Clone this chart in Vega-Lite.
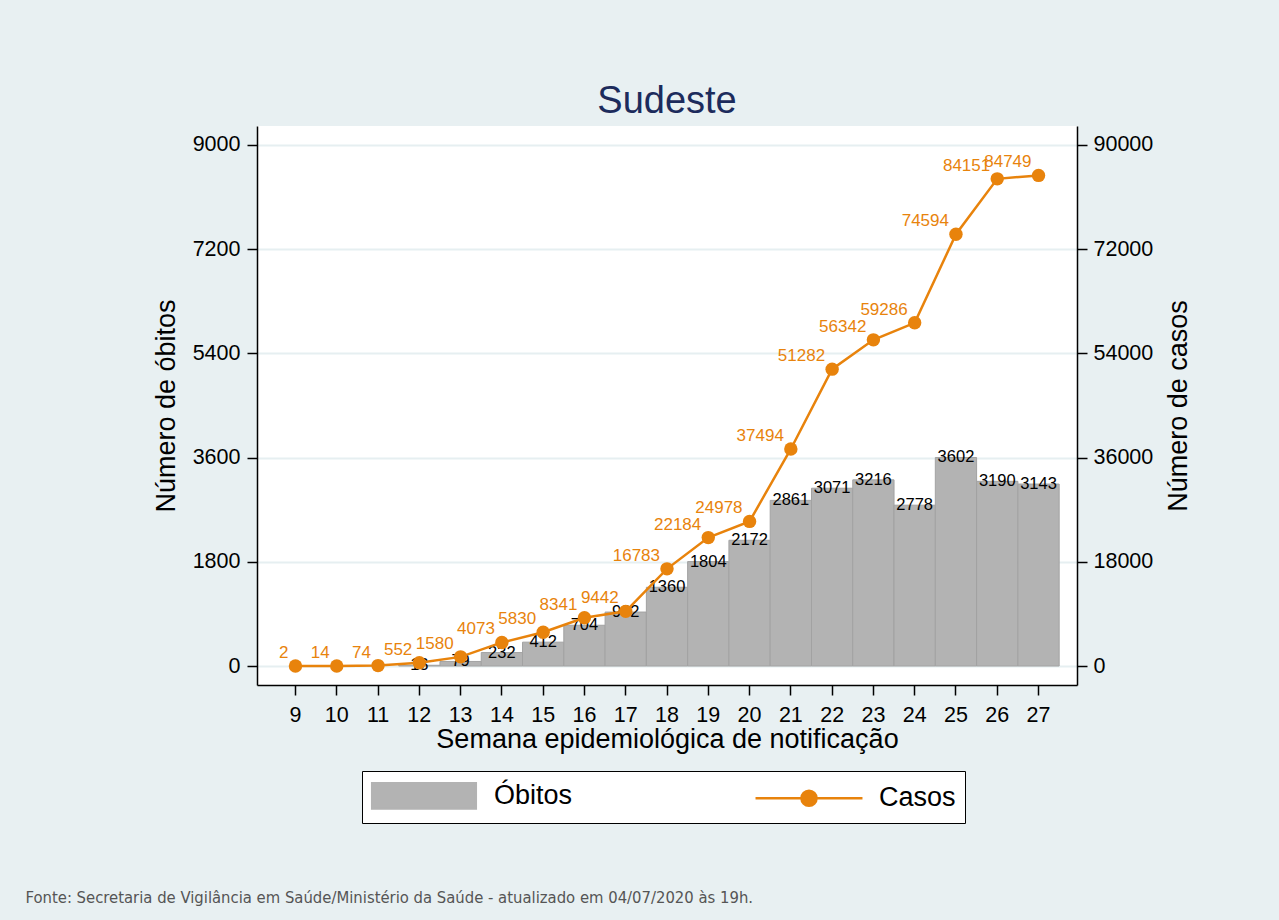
{
  "$schema": "https://vega.github.io/schema/vega-lite/v6.json",
  "width": 820,
  "height": 559,
  "autosize": {"type": "none"},
  "padding": {"left": 257, "top": 126, "right": 202, "bottom": 235},
  "background": "#e8f0f2",
  "title": {"text": "Sudeste", "font": "Liberation Sans", "fontSize": 38, "fontWeight": "normal", "color": "#1c2b5c", "anchor": "middle", "baseline": "alphabetic", "offset": -25},
  "config": {
    "view": {"fill": "white", "stroke": null},
    "font": "Liberation Sans",
    "axis": {"labelFont": "Liberation Sans", "titleFont": "Liberation Sans", "labelColor": "black", "titleColor": "black", "titleFontWeight": "normal", "domainColor": "black", "tickColor": "black", "domainWidth": 1.5, "tickWidth": 1.5}
  },
  "datasets": {
    "obitos": [
      {"semana": 12, "obitos": 13},
      {"semana": 13, "obitos": 79},
      {"semana": 14, "obitos": 232},
      {"semana": 15, "obitos": 412},
      {"semana": 16, "obitos": 704},
      {"semana": 17, "obitos": 932},
      {"semana": 18, "obitos": 1360},
      {"semana": 19, "obitos": 1804},
      {"semana": 20, "obitos": 2172},
      {"semana": 21, "obitos": 2861},
      {"semana": 22, "obitos": 3071},
      {"semana": 23, "obitos": 3216},
      {"semana": 24, "obitos": 2778},
      {"semana": 25, "obitos": 3602},
      {"semana": 26, "obitos": 3190},
      {"semana": 27, "obitos": 3143}
    ],
    "casos": [
      {"semana": 9, "casos": 2},
      {"semana": 10, "casos": 14},
      {"semana": 11, "casos": 74},
      {"semana": 12, "casos": 552},
      {"semana": 13, "casos": 1580},
      {"semana": 14, "casos": 4073},
      {"semana": 15, "casos": 5830},
      {"semana": 16, "casos": 8341},
      {"semana": 17, "casos": 9442},
      {"semana": 18, "casos": 16783},
      {"semana": 19, "casos": 22184},
      {"semana": 20, "casos": 24978},
      {"semana": 21, "casos": 37494},
      {"semana": 22, "casos": 51282},
      {"semana": 23, "casos": 56342},
      {"semana": 24, "casos": 59286},
      {"semana": 25, "casos": 74594},
      {"semana": 26, "casos": 84151},
      {"semana": 27, "casos": 84749}
    ]
  },
  "layer": [
    {
      "data": {"name": "obitos"},
      "encoding": {
        "x": {
          "field": "semana", "type": "ordinal",
          "scale": {"domain": [9,10,11,12,13,14,15,16,17,18,19,20,21,22,23,24,25,26,27], "paddingInner": 0, "paddingOuter": 0.432},
          "axis": {"orient": "bottom", "title": "Semana epidemiológica de notificação", "titleFontSize": 27, "labelFontSize": 21.5, "labelAngle": 0, "tickSize": 10, "labelPadding": 9, "titlePadding": 1, "grid": false}
        },
        "y": {
          "field": "obitos", "type": "quantitative",
          "scale": {"domain": [-328, 9328], "nice": false, "zero": false},
          "axis": {"orient": "left", "values": [0, 1800, 3600, 5400, 7200, 9000], "format": "d", "title": "Número de óbitos", "titleFontSize": 27, "labelFontSize": 21.5, "tickSize": 10, "labelPadding": 7, "titlePadding": 12, "grid": true, "gridColor": "#e6eff1", "gridWidth": 2}
        }
      },
      "layer": [
        {
          "mark": {"type": "bar", "stroke": "#a2a2a2", "strokeWidth": 1},
          "encoding": {
            "y2": {"datum": 0},
            "color": {
              "datum": "Óbitos",
              "scale": {"domain": ["Óbitos", "Casos"], "range": ["#b3b3b3", "#e8830c"]},
              "legend": {
                "orient": "none", "legendX": 105, "legendY": 645, "direction": "horizontal", "title": null,
                "fillColor": "white", "strokeColor": "black", "padding": 9,
                "labelFont": "Liberation Sans", "labelFontSize": 27, "labelColor": "black", "labelLimit": 300,
                "symbolSize": 784, "symbolStrokeWidth": 2.5, "symbolOffset": 37.5, "labelOffset": 54.5, "columnPadding": 177,
                "symbolOpacity": 1,
                "symbolType": {"expr": "datum.value === 'Casos' ? 'M-3.82,0H3.82M0.54,0A0.54,0.54 0 1 1 -0.54,0A0.54,0.54 0 1 1 0.54,0' : 'M-3.7,-0.9H3.7V0.9H-3.7Z'"}
              }
            }
          }
        },
        {
          "mark": {"type": "text", "fontSize": 16.5, "baseline": "middle", "color": "black"},
          "encoding": {"text": {"field": "obitos", "type": "quantitative", "format": "d"}}
        }
      ]
    },
    {
      "data": {"name": "casos"},
      "encoding": {
        "x": {
          "field": "semana", "type": "ordinal",
          "axis": {"orient": "bottom", "domain": false, "ticks": false, "labels": false, "grid": false,
            "title": "Fonte: Secretaria de Vigilância em Saúde/Ministério da Saúde - atualizado em 04/07/2020 às 19h.",
            "titleFont": "DejaVu Sans Condensed", "titleFontSize": 16.5, "titleColor": "#555555", "titleFontWeight": "normal",
            "titleX": -232, "titleY": 212, "titleAlign": "left", "titleBaseline": "middle", "titleLimit": 2000}
        },
        "y": {
          "field": "casos", "type": "quantitative",
          "scale": {"domain": [-3280, 93280], "nice": false, "zero": false},
          "axis": {"orient": "right", "values": [0, 18000, 36000, 54000, 72000, 90000], "format": "d", "title": "Número de casos", "titleFontSize": 27, "titleAngle": 270, "titleBaseline": "top", "labelFontSize": 21.5, "tickSize": 10, "labelPadding": 6, "titlePadding": 13, "grid": false}
        }
      },
      "layer": [
        {"mark": {"type": "line", "strokeWidth": 2.5}, "encoding": {"color": {"datum": "Casos"}}},
        {"mark": {"type": "point", "filled": true, "size": 180, "opacity": 1}, "encoding": {"color": {"datum": "Casos"}}},
        {
          "mark": {"type": "text", "align": "right", "baseline": "alphabetic", "dx": -7, "dy": -8, "fontSize": 17, "color": "#e8830c"},
          "encoding": {"text": {"field": "casos", "type": "quantitative", "format": "d"}}
        }
      ]
    }
  ],
  "resolve": {"scale": {"y": "independent"}, "axis": {"x": "independent"}}
}
